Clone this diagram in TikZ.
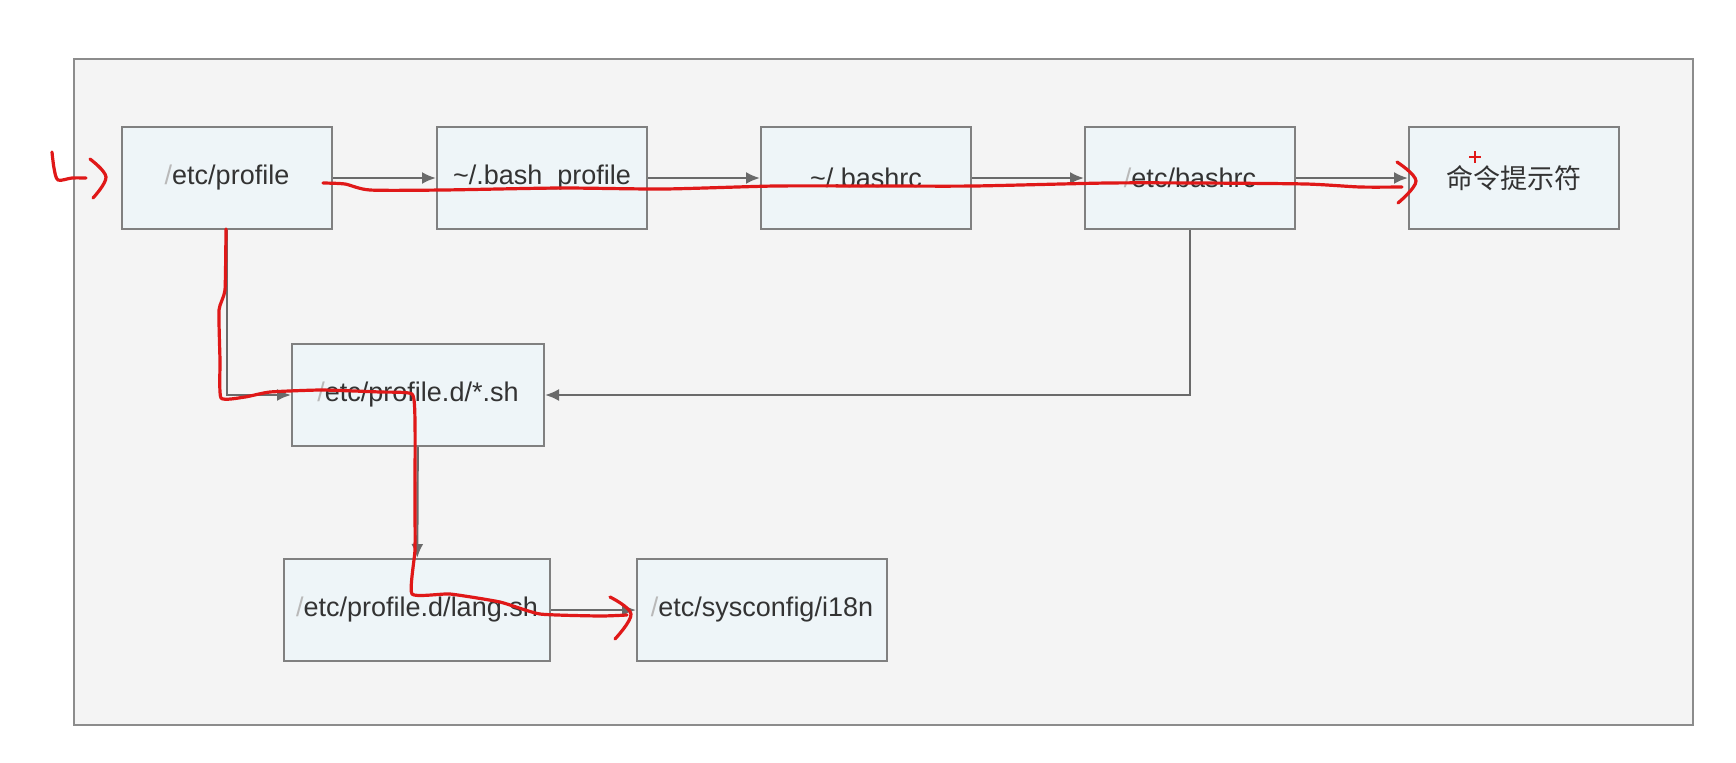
\documentclass[tikz,border=0pt]{standalone}
\usepackage{fontspec}
\setmainfont{Liberation Sans}
\newfontfamily\cjkfont{Noto Sans CJK SC}
\usetikzlibrary{arrows.meta}
\definecolor{panelfill}{HTML}{F4F4F4}
\definecolor{panelline}{HTML}{8C8C8C}
\definecolor{boxfill}{HTML}{EEF5F8}
\definecolor{boxline}{HTML}{808080}
\definecolor{flowline}{HTML}{6A6A6A}
\definecolor{txt}{HTML}{333333}
\definecolor{pen}{HTML}{E01818}
\newcommand{\lsl}{\textcolor{gray!55}{/}}
\begin{document}
\begin{tikzpicture}[x=0.5pt,y=-0.5pt,
  filebox/.style={draw=boxline,line width=1pt,fill=boxfill,minimum width=105pt,minimum height=51pt,
    inner sep=0pt,text=txt,font=\fontsize{13.5}{16}\selectfont},
  flow/.style={draw=flowline,line width=1.1pt,-{Latex[length=7pt,width=6pt]}},
  ink/.style={draw=pen,line width=1.6pt,line cap=round,line join=round}]
\useasboundingbox (0,0) rectangle (1736,762);
% outer panel
\draw[panelline,line width=1.2pt,fill=panelfill] (74,59) rectangle (1693,725);

% file boxes
\node[filebox] (profile)   at (227,178)  {\lsl etc/profile};
\node[filebox] (bashprof)  at (542,178)  {\textasciitilde/.bash\_profile};
\node[filebox] (bashrc)    at (866,178)  {\textasciitilde/.bashrc};
\node[filebox] (etcbashrc) at (1190,178) {\lsl etc/bashrc};
\node[filebox] (prompt)    at (1514,178) {\cjkfont 命令提示符};
\node[filebox,minimum width=126pt] (profiled) at (418,395) {\lsl etc/profile.d/*.sh};
\node[filebox,minimum width=133pt] (langsh)   at (417,610) {\lsl etc/profile.d/lang.sh};
\node[filebox,minimum width=125pt] (i18n)     at (762,610) {\lsl etc/sysconfig/i18n};

% load order
\draw[flow] (profile) -- (bashprof);
\draw[flow] (bashprof) -- (bashrc);
\draw[flow] (bashrc) -- (etcbashrc);
\draw[flow] (etcbashrc) -- (prompt);
\draw[flow] (profile.south) |- (profiled.west);
\draw[flow] (etcbashrc.south) |- (profiled.east);
\draw[flow] (profiled) -- (langsh);
\draw[flow] (langsh) -- (i18n);

% hand-drawn red trace
\draw[ink] plot[smooth,tension=0.5] coordinates {(52,152) (54,168) (58,180) (72,178) (86,178)};
\draw[ink] plot[smooth,tension=0.6] coordinates {(90,159) (106,177) (93,198)};
\draw[ink] plot[smooth,tension=0.4] coordinates {(323,183) (345,184) (370,190) (443,190) (560,188) (664,189)
  (775,186) (880,186) (974,186) (1107,183) (1200,183) (1306,184) (1360,187) (1402,187)};
\draw[ink] plot[smooth,tension=0.6] coordinates {(1397,162) (1416,181) (1398,203)};
\draw[ink] plot[smooth,tension=0.3] coordinates {(226,229) (225,290) (219,310) (220,360) (221,398)
  (245,397) (270,392) (321,390) (380,392) (412,394) (415,421) (415,500) (415,550) (412,594)
  (450,594) (500,602) (540,614) (600,616) (627,615)};
\draw[ink] plot[smooth,tension=0.6] coordinates {(610,597) (631,614) (615,639)};
% small plus mark
\draw[pen,line width=1.2pt] (1469,157) -- (1481,157) (1475,151) -- (1475,163);
\end{tikzpicture}
\end{document}
